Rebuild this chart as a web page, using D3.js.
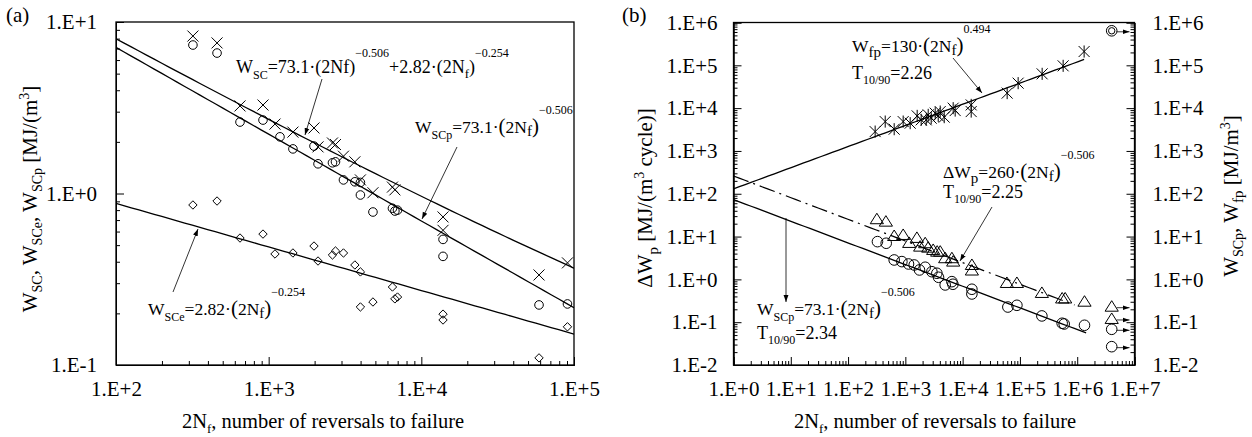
<!DOCTYPE html>
<html><head><meta charset="utf-8">
<script src="https://cdn.jsdelivr.net/npm/d3@7"></script>
<style>
body{margin:0;background:#fff;}
</style></head>
<body><svg id="c" width="1252" height="437"></svg>
<script>
// ---------- DATA ----------
// Panel (a)
const aCrossX = [319,459,649,918,1100,1442,1981,2105,2618,2740,3090,3670,3990,4820,6470,6710,13870,13870,59000,90600];
const aCrossY = [8.28,7.55,3.24,3.28,2.54,2.28,2.41,1.87,1.97,1.93,1.65,1.53,1.20,1.01,1.09,1.05,0.73,0.61,0.335,0.394];
const aCircX = [319,459,649,918,1186,1442,1981,2105,2618,2740,3090,3670,3990,3990,4820,6470,6710,6980,13870,13870,59000,90600];
const aCircY = [7.34,6.59,2.61,2.68,2.14,1.82,1.89,1.49,1.51,1.53,1.20,1.17,1.16,0.98,0.78,0.82,0.79,0.80,0.54,0.43,0.224,0.227];
const aDiamX = [319,459,649,918,1100,1442,1981,2105,2618,2740,3090,3670,3990,3990,4820,6470,6710,6980,13870,13870,59000,90600];
const aDiamY = [0.857,0.904,0.55,0.58,0.444,0.45,0.494,0.404,0.438,0.462,0.45,0.383,0.349,0.218,0.233,0.285,0.243,0.249,0.198,0.183,0.110,0.167];
const fitSCpCoef = [73.1, -0.506];
const fitSCeCoef = [2.82, -0.254];
const fitAxRange = [1e2, 1e5];

// Panel (b)
const bAstX = [297,445,638,916,1214,1608,1889,2310,2505,2826,3320,3747,4058,4766,6837,7410,14100,14100,59870,93110,244300,568000,1320000];
const bAstY = [2830,4850,3220,4850,4450,6590,5320,5320,6960,5820,7620,6590,8310,6150,9980,8770,11900,8310,22400,38300,63200,97200,210000];
const bTriX = [318,457,638,916,1167,1589,1815,2220,2505,3062,3596,4058,4958,6490,6837,14500,14500,59200,88500,241600,546000,616000,1340000];
const bTriY = [25.4,22.3,10.3,10.9,7.10,9.3,5.82,6.98,5.51,4.87,4.44,4.44,3.12,3.12,2.60,2.17,1.61,0.824,0.824,0.482,0.358,0.358,0.301];
const bCircX = [326,463,638,869,1135,1427,1764,2220,2904,3550,3787,4958,6490,6760,14500,14500,61600,88500,241600,546000,592000,1340000];
const bCircY = [7.61,6.98,2.84,2.60,2.29,2.17,1.66,1.92,1.51,1.39,1.12,0.741,0.885,0.769,0.588,0.456,0.226,0.248,0.140,0.0944,0.0908,0.0847];
const bRunX = 4.0e6;
const bRunTriY = [0.230, 0.119];
const bRunCircY = [0.0682, 0.0268];
const bRunTopY = [640000];
const fitFpCoef = [130, 0.494];
const fitDWpCoef = [260, -0.506];
const fitSCpBCoef = [73.1, -0.506];
const fitFpRange = [1, 1.32e6];
const fitDWpRange = [1, 9.0e5];
const fitSCpBRange = [1, 1.43e6];

const aXTicks = [1e2,1e3,1e4,1e5];
const aYTicks = [0.1,1,10];
const bXTicks = [1,1e1,1e2,1e3,1e4,1e5,1e6,1e7];
const bYTicks = [1e-2,1e-1,1,1e1,1e2,1e3,1e4,1e5,1e6];

// ---------- SETUP ----------
const FONT = "Liberation Serif";
const svg = d3.select("#c");
const defs = svg.append("defs");
defs.append("marker").attr("id","ah").attr("viewBox","0 0 10 10").attr("refX",10).attr("refY",5)
  .attr("markerWidth",7).attr("markerHeight",7).attr("markerUnits","userSpaceOnUse").attr("orient","auto")
  .append("path").attr("d","M0,1.5L10,5L0,8.5Z").attr("fill","#000");

const fmt = d => { const e = Math.round(Math.log10(d)); return "1.E" + (e>=0?"+":"-") + Math.abs(e); };
function minorTicks(domain){
  const out=[]; const lo=Math.round(Math.log10(domain[0])), hi=Math.round(Math.log10(domain[1]));
  for(let e=lo;e<hi;e++) for(let m=2;m<=9;m++) out.push(m*Math.pow(10,e));
  return out;
}
function rich(g, x, y, parts, opts={}){
  const t = g.append("text").attr("x",x).attr("y",y)
    .style("font-family",FONT).style("font-size",(opts.size||17)+"px")
    .attr("text-anchor",opts.anchor||"start").attr("fill","#000");
  if(opts.rotate) t.attr("transform",`rotate(-90,${x},${y})`);
  let cur=0;
  parts.forEach(p=>{
    const off = p.sub? (p.off||5) : p.sup? -(p.off||13) : 0;
    const ts = t.append("tspan").text(p.t).attr("dy", off-cur);
    if(p.sub||p.sup) ts.style("font-size", (p.fs||11)+"px");
    else if(p.fs) ts.style("font-size", p.fs+"px");
    cur=off;
  });
  return t;
}
function arrow(g,x1,y1,x2,y2){
  g.append("line").attr("x1",x1).attr("y1",y1).attr("x2",x2).attr("y2",y2)
   .attr("stroke","#000").attr("stroke-width",0.8).attr("marker-end","url(#ah)");
}
function drawCross(g, pts, s){
  g.selectAll(null).data(pts).join("path")
   .attr("d", d=>`M${d[0]-s},${d[1]-s}L${d[0]+s},${d[1]+s}M${d[0]-s},${d[1]+s}L${d[0]+s},${d[1]-s}`)
   .attr("stroke","#000").attr("stroke-width",1).attr("fill","none");
}
function drawAst(g, pts, s){
  g.selectAll(null).data(pts).join("path")
   .attr("d", d=>`M${d[0]-s},${d[1]-s}L${d[0]+s},${d[1]+s}M${d[0]-s},${d[1]+s}L${d[0]+s},${d[1]-s}M${d[0]},${d[1]-s*1.1}L${d[0]},${d[1]+s*1.1}`)
   .attr("stroke","#000").attr("stroke-width",1).attr("fill","none");
}
function drawCirc(g, pts, r){
  g.selectAll(null).data(pts).join("circle").attr("cx",d=>d[0]).attr("cy",d=>d[1]).attr("r",r)
   .attr("fill","none").attr("stroke","#000").attr("stroke-width",1);
}
function drawDiam(g, pts, s){
  g.selectAll(null).data(pts).join("path")
   .attr("d", d=>`M${d[0]},${d[1]-s}L${d[0]+s},${d[1]}L${d[0]},${d[1]+s}L${d[0]-s},${d[1]}Z`)
   .attr("stroke","#000").attr("stroke-width",1).attr("fill","none");
}
function drawTri(g, pts, s){
  g.selectAll(null).data(pts).join("path")
   .attr("d", d=>`M${d[0]},${d[1]-s}L${d[0]+s*1.1},${d[1]+s*0.75}L${d[0]-s*1.1},${d[1]+s*0.75}Z`)
   .attr("stroke","#000").attr("stroke-width",1).attr("fill","none");
}
const zip = (xs,ys,sx,sy) => xs.map((x,i)=>[sx(x), sy(ys[i])]);
function powerCurve(sx, sy, terms, range, n=60){
  const l0=Math.log10(range[0]), l1=Math.log10(range[1]);
  return d3.range(n+1).map(i=>{
    const x = Math.pow(10, l0+(l1-l0)*i/n);
    const y = d3.sum(terms, c=>c[0]*Math.pow(x,c[1]));
    return [sx(x), sy(y)];
  });
}
const line = d3.line();
function styleAxis(g){
  g.attr("font-family",null).attr("font-size",null);
  g.selectAll(".tick text").style("font-size","21px").style("font-family",FONT).attr("fill","#000");
  g.selectAll(".domain").attr("stroke","#000");
  g.selectAll(".tick line").attr("stroke","#000");
}

// ---------- PANEL (a) ----------
const A = {l:116, r:574, t:22, b:365};
const xA = d3.scaleLog().domain([1e2,1e5]).range([A.l,A.r]);
const yA = d3.scaleLog().domain([0.1,10]).range([A.b,A.t]);
const gA = svg.append("g");

gA.append("g").attr("transform",`translate(${A.l},0)`)
  .call(d3.axisLeft(yA).tickValues(minorTicks([0.1,10])).tickSize(-4).tickFormat("")).call(styleAxis);
gA.append("g").attr("transform",`translate(${A.l},0)`)
  .call(d3.axisLeft(yA).tickValues(aYTicks).tickSize(-8).tickPadding(19).tickFormat(fmt)).call(styleAxis);
gA.append("g").attr("transform",`translate(0,${A.b})`)
  .call(d3.axisBottom(xA).tickValues(minorTicks([1e2,1e5])).tickSize(-4).tickFormat("")).call(styleAxis);
gA.append("g").attr("transform",`translate(0,${A.b})`)
  .call(d3.axisBottom(xA).tickValues(aXTicks).tickSize(-8).tickPadding(16).tickFormat(fmt)).call(styleAxis);
gA.append("rect").attr("x",A.l).attr("y",A.t).attr("width",A.r-A.l).attr("height",A.b-A.t)
  .attr("fill","none").attr("stroke","#000").attr("stroke-width",1.3);

defs.append("clipPath").attr("id","clipA").append("rect")
  .attr("x",A.l).attr("y",A.t).attr("width",A.r-A.l).attr("height",A.b-A.t);
const fA = gA.append("g").attr("clip-path","url(#clipA)");
fA.append("path").attr("d", line(powerCurve(xA,yA,[fitSCpCoef,fitSCeCoef],fitAxRange))).attr("fill","none").attr("stroke","#000").attr("stroke-width",1.3);
fA.append("path").attr("d", line(powerCurve(xA,yA,[fitSCpCoef],fitAxRange))).attr("fill","none").attr("stroke","#000").attr("stroke-width",1.3);
fA.append("path").attr("d", line(powerCurve(xA,yA,[fitSCeCoef],fitAxRange))).attr("fill","none").attr("stroke","#000").attr("stroke-width",1.3);

drawCross(gA, zip(aCrossX,aCrossY,xA,yA), 5.5);
drawCirc(gA, zip(aCircX,aCircY,xA,yA), 4.3);
drawDiam(gA, zip(aDiamX,aDiamY,xA,yA), 4.2);

rich(gA, 236, 73, [{t:"W"},{t:"SC",sub:1,off:6,fs:12},{t:"=73.1·(2Nf)"},{t:"−0.506",sup:1,off:16,fs:12},{t:"+2.82·(2N"},{t:"f",sub:1,off:5,fs:13},{t:")"},{t:"−0.254",sup:1,off:16,fs:12}], {size:18});
arrow(gA, 322, 79, 305, 135);
rich(gA, 415, 133, [{t:"W"},{t:"SCp",sub:1,off:6,fs:12},{t:"=73.1·"},{t:"(",fs:21},{t:"2N"},{t:"f",sub:1,off:3,fs:15},{t:")",fs:21},{t:"−0.506",sup:1,off:19,fs:12}], {size:17.5});
arrow(gA, 457, 147, 422, 219);
rich(gA, 148, 315, [{t:"W"},{t:"SCe",sub:1,off:6,fs:12},{t:"=2.82·"},{t:"(",fs:21},{t:"2N"},{t:"f",sub:1,off:3,fs:15},{t:")",fs:21},{t:"−0.254",sup:1,off:19,fs:12}], {size:17.5});
arrow(gA, 173, 292, 198, 229);

rich(svg, 6, 22, [{t:"(a)"}], {size:21});
rich(svg, 37, 199, [{t:"W"},{t:"SC",sub:1,fs:14},{t:", W"},{t:"SCe",sub:1,fs:14},{t:", W"},{t:"SCp",sub:1,fs:14},{t:" [MJ/(m"},{t:"3",sup:1,off:8,fs:14},{t:"]",}], {size:21, anchor:"middle", rotate:true});
rich(svg, 323, 428, [{t:"2N"},{t:"f",sub:1,off:5,fs:13},{t:", number of reversals to failure"}], {size:20.5, anchor:"middle"});

// ---------- PANEL (b) ----------
const B = {l:733.5, r:1134.5, t:22.5, b:365};
const xB = d3.scaleLog().domain([1,1e7]).range([B.l,B.r]);
const yB = d3.scaleLog().domain([1e-2,1e6]).range([B.b,B.t]);
const gB = svg.append("g");
gB.append("g").attr("transform",`translate(${B.l},0)`)
  .call(d3.axisLeft(yB).tickValues(minorTicks([1e-2,1e6])).tickSize(-4).tickFormat("")).call(styleAxis);
gB.append("g").attr("transform",`translate(${B.l},0)`)
  .call(d3.axisLeft(yB).tickValues(bYTicks).tickSize(-8).tickPadding(16).tickFormat(fmt)).call(styleAxis);
gB.append("g").attr("transform",`translate(${B.r},0)`)
  .call(d3.axisRight(yB).tickValues(minorTicks([1e-2,1e6])).tickSize(-4).tickFormat("")).call(styleAxis);
gB.append("g").attr("transform",`translate(${B.r},0)`)
  .call(d3.axisRight(yB).tickValues(bYTicks).tickSize(-8).tickPadding(18).tickFormat(fmt)).call(styleAxis);
gB.append("g").attr("transform",`translate(0,${B.b})`)
  .call(d3.axisBottom(xB).tickValues(minorTicks([1,1e7])).tickSize(-4).tickFormat("")).call(styleAxis);
gB.append("g").attr("transform",`translate(0,${B.b})`)
  .call(d3.axisBottom(xB).tickValues(bXTicks).tickSize(-8).tickPadding(16).tickFormat(fmt)).call(styleAxis);
gB.append("rect").attr("x",B.l).attr("y",B.t).attr("width",B.r-B.l).attr("height",B.b-B.t)
  .attr("fill","none").attr("stroke","#000").attr("stroke-width",1.3);

gB.append("path").attr("d", line(powerCurve(xB,yB,[fitFpCoef],fitFpRange))).attr("fill","none").attr("stroke","#000").attr("stroke-width",1.3);
gB.append("path").attr("d", line(powerCurve(xB,yB,[fitDWpCoef],fitDWpRange))).attr("fill","none").attr("stroke","#000").attr("stroke-width",1.2).attr("stroke-dasharray","16,5,2,5");
gB.append("path").attr("d", line(powerCurve(xB,yB,[fitSCpBCoef],fitSCpBRange))).attr("fill","none").attr("stroke","#000").attr("stroke-width",1.3);

drawAst(gB, zip(bAstX,bAstY,xB,yB), 5.5);
drawTri(gB, zip(bTriX,bTriY,xB,yB), 6);
drawCirc(gB, zip(bCircX,bCircY,xB,yB), 5.3);
const runTri = bRunTriY.map(y=>[xB(bRunX), yB(y)]);
const runCirc = bRunCircY.map(y=>[xB(bRunX), yB(y)]);
drawTri(gB, runTri, 6);
drawCirc(gB, runCirc, 5.3);
bRunTopY.forEach(y=>{
  drawCirc(gB, [[xB(bRunX), yB(y)]], 5.3);
  drawCirc(gB, [[xB(bRunX), yB(y)]], 3.2);
});
[...runTri, ...runCirc, ...bRunTopY.map(y=>[xB(bRunX), yB(y)])].forEach(p=>{
  arrow(gB, p[0]+5, p[1]+1, B.r-5, p[1]+1);
});

rich(gB, 852, 52, [{t:"W"},{t:"fp",sub:1,fs:15,off:5},{t:"=130·"},{t:"(",fs:21},{t:"2N"},{t:"f",sub:1,off:3,fs:15},{t:")",fs:21},{t:"0.494",sup:1,off:19,fs:12}], {size:17.5});
rich(gB, 852, 79, [{t:"T"},{t:"10/90",sub:1,off:5,fs:12},{t:"=2.26"}], {size:18});
arrow(gB, 953, 58, 982, 93);
rich(gB, 943, 178, [{t:"ΔW"},{t:"p",sub:1,fs:15,off:5},{t:"=260·"},{t:"(",fs:21},{t:"2N"},{t:"f",sub:1,off:3,fs:15},{t:")",fs:21},{t:"−0.506",sup:1,off:19,fs:12}], {size:17.5});
rich(gB, 943, 198, [{t:"T"},{t:"10/90",sub:1,off:5,fs:12},{t:"=2.25"}], {size:18});
arrow(gB, 992, 207, 960, 261);
rich(gB, 757, 315, [{t:"W"},{t:"SCp",sub:1,off:6,fs:12},{t:"=73.1·"},{t:"(",fs:21},{t:"2N"},{t:"f",sub:1,off:3,fs:15},{t:")",fs:21},{t:"−0.506",sup:1,off:19,fs:12}], {size:17.5});
rich(gB, 757, 339, [{t:"T"},{t:"10/90",sub:1,off:5,fs:12},{t:"=2.34"}], {size:18});
arrow(gB, 786, 218, 786, 302);

rich(svg, 622, 22, [{t:"(b)"}], {size:21});
rich(svg, 652, 198, [{t:"ΔW"},{t:"p",sub:1,fs:15,off:6},{t:" [MJ/(m"},{t:"3",sup:1,off:8,fs:14},{t:" cycle)]"}], {size:21, anchor:"middle", rotate:true});
rich(svg, 1238, 196, [{t:"W"},{t:"SCp",sub:1,fs:14},{t:", W"},{t:"fp",sub:1,fs:15},{t:" [MJ/m"},{t:"3",sup:1,off:8,fs:14},{t:"]"}], {size:21, anchor:"middle", rotate:true});
rich(svg, 935, 428, [{t:"2N"},{t:"f",sub:1,off:5,fs:13},{t:", number of reversals to failure"}], {size:20.5, anchor:"middle"});
</script></body></html>
